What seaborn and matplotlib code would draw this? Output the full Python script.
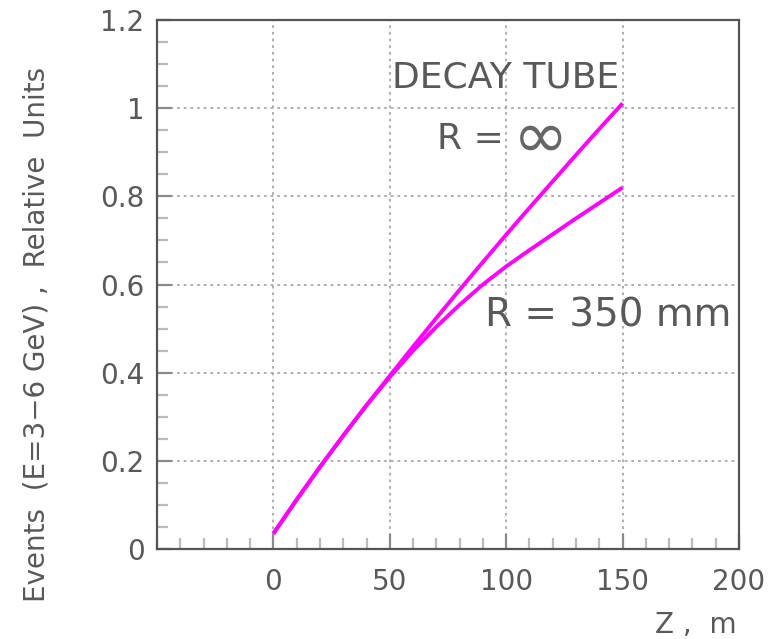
import numpy as np
import pandas as pd
import matplotlib
matplotlib.use("Agg")
import matplotlib.pyplot as plt
from matplotlib.ticker import MultipleLocator
import seaborn as sns

# ---- data ----
z_m = [0, 10, 20, 30, 40, 50, 60, 70, 80, 90, 100, 110, 120, 130, 140, 150]
events_r_inf = [0.035, 0.112, 0.186, 0.257, 0.326, 0.393, 0.459, 0.524, 0.588,
                0.651, 0.713, 0.774, 0.834, 0.894, 0.953, 1.011]
events_r_350 = [0.035, 0.112, 0.186, 0.257, 0.326, 0.390, 0.450, 0.504, 0.554,
                0.600, 0.641, 0.678, 0.714, 0.750, 0.785, 0.820]
series_names = ["R = inf", "R = 350 mm"]
x_ticks = [0, 50, 100, 150, 200]
x_tick_labels = ["0", "50", "100", "150", "200"]
y_ticks = [0, 0.2, 0.4, 0.6, 0.8, 1.0, 1.2]
y_tick_labels = ["0", "0.2", "0.4", "0.6", "0.8", "1", "1.2"]

df = pd.DataFrame({
    "z": z_m + z_m,
    "events": events_r_inf + events_r_350,
    "series": [series_names[0]] * len(z_m) + [series_names[1]] * len(z_m),
})

sns.set_style("white")
plt.rcParams["font.family"] = ["DejaVu Sans"]

W, H = 769, 639
fig = plt.figure(figsize=(W / 100, H / 100), dpi=100)
ax_l, ax_r, ax_t, ax_b = 157, 739, 20, 549
ax = fig.add_axes([ax_l / W, 1 - ax_b / H, (ax_r - ax_l) / W, (ax_b - ax_t) / H])

magenta = "#ff00ff"
sns.lineplot(data=df, x="z", y="events", hue="series",
             palette={series_names[0]: magenta, series_names[1]: magenta},
             linewidth=2.8, legend=False, ax=ax, sort=False)
for ln in ax.get_lines():
    ln.set_solid_capstyle("butt")
    ln.set_solid_joinstyle("round")

ax.set_xlim(-50, 200)
ax.set_ylim(0, 1.2)
ax.set_xticks(x_ticks)
ax.set_xticklabels(x_tick_labels)
ax.set_yticks(y_ticks)
ax.set_yticklabels(y_tick_labels)
ax.xaxis.set_minor_locator(MultipleLocator(10))
ax.yaxis.set_minor_locator(MultipleLocator(0.05))

txt_col = "#595959"
ax.tick_params(axis="both", which="both", bottom=True, left=True, top=False, right=False)
ax.tick_params(axis="both", which="major", direction="in", length=11, width=1.6,
               color="#8a8a8a", labelsize=20, labelcolor=txt_col)
ax.tick_params(axis="x", which="major", pad=14)
ax.tick_params(axis="y", which="major", pad=9)
ax.tick_params(axis="both", which="minor", direction="in", length=8, width=1.6,
               color="#bbbbbb")

ax.grid(True, which="major", linestyle=(0, (1.5, 2.2)), color="#a8a8a8", linewidth=1.3)
ax.set_axisbelow(True)
for sp in ax.spines.values():
    sp.set_visible(True)
    sp.set_color("#555555")
    sp.set_linewidth(1.6)

ax.set_xlabel("")
ax.set_ylabel("")

# annotations (positions in data units)
ax.text(99.8, 1.048, "DECAY TUBE", fontsize=26, color=txt_col, ha="center", va="baseline")
ax.text(70.1, 0.907, "R =", fontsize=26, color=txt_col, ha="left", va="baseline")
ax.text(114.8, 0.930, "\u221e", fontsize=48, color="#666666", ha="center", va="center",
        family=["DejaVu Sans"])
ax.text(90.7, 0.504, "R = 350 mm", fontsize=28, color=txt_col, ha="left", va="baseline")

fig.text(737 / W, 1 - 633 / H, "Z ,  m", fontsize=20, color=txt_col, ha="right", va="baseline")
fig.text(37 / W, 1 - 334 / H, "Events  (E=3\u22126 GeV) ,  Relative  Units", fontsize=20,
         color=txt_col, rotation=90, ha="center", va="center")

fig.savefig("out.png", dpi=100, facecolor="white")
